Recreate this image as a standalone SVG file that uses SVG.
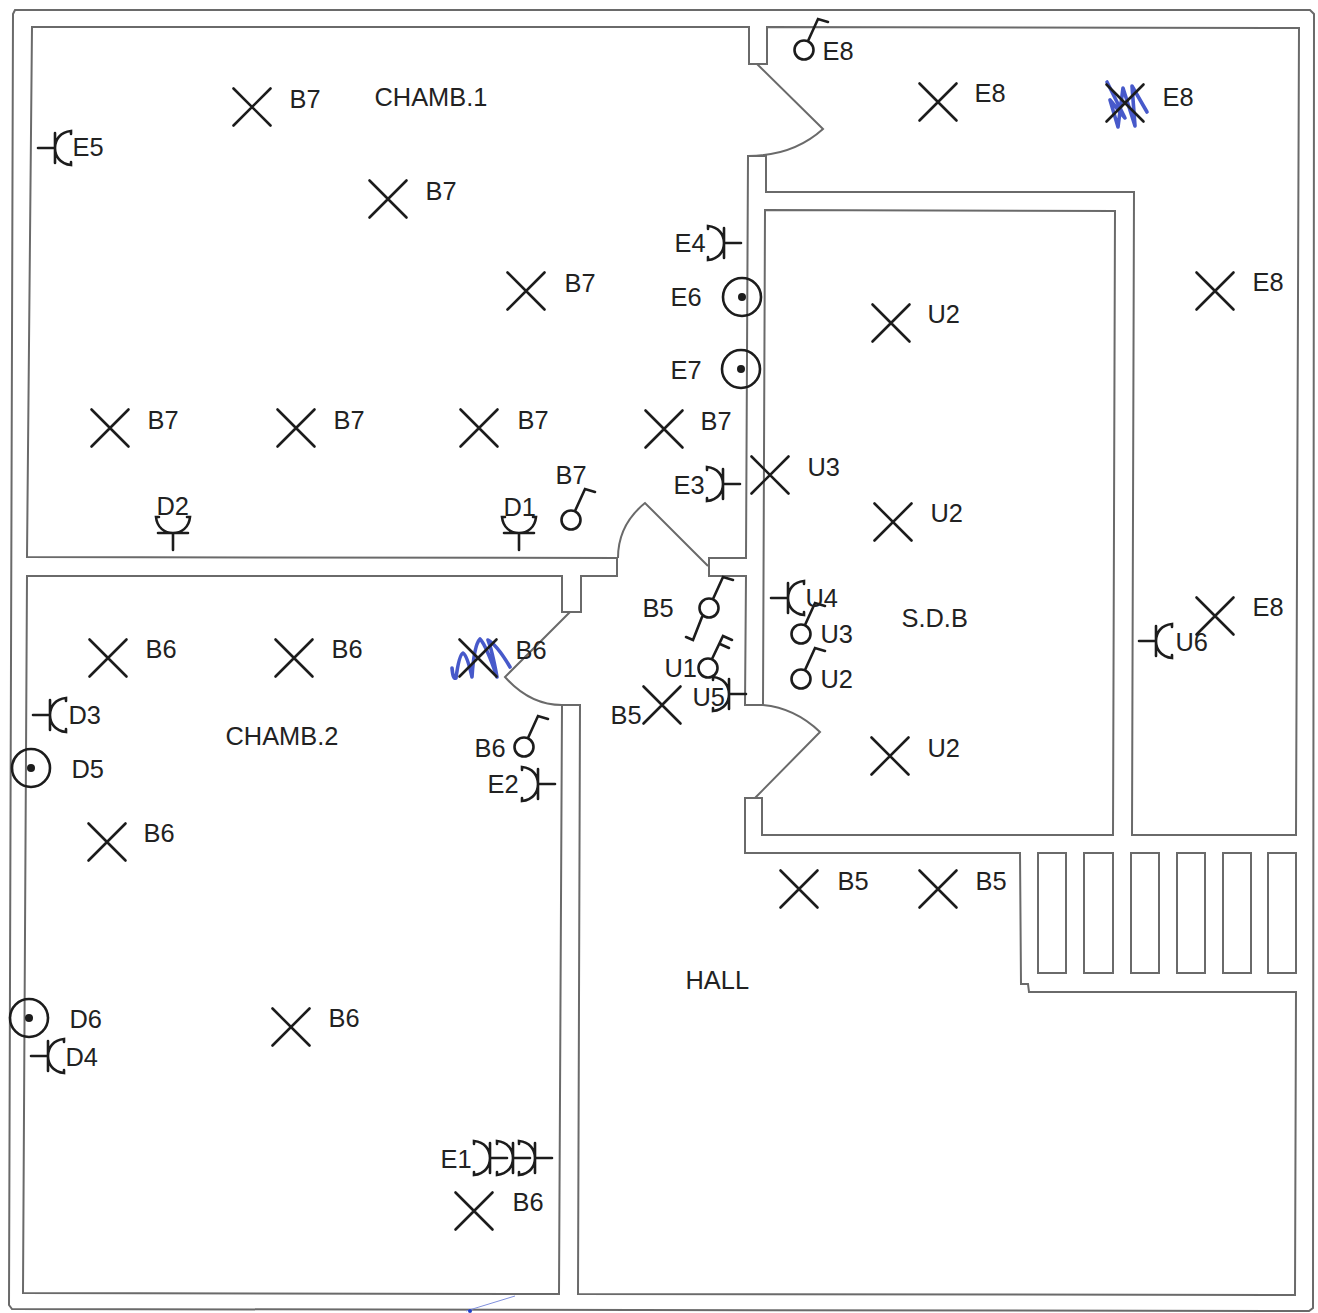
<svg xmlns="http://www.w3.org/2000/svg" xmlns:xlink="http://www.w3.org/1999/xlink" width="1318" height="1313" viewBox="0 0 1318 1313">
<style>
.w{fill:none;stroke:#6a6a6a;stroke-width:2;stroke-linejoin:miter}
.s{fill:none;stroke:#1c1c1c;stroke-width:2.6;stroke-linecap:round}
.c{fill:#fff;fill-opacity:0;stroke:#1c1c1c;stroke-width:2.6}
.ink{fill:none;stroke:#3347c4;stroke-width:3.6;stroke-linecap:round;stroke-linejoin:round;opacity:.9}
text{font-family:"Liberation Sans",Arial,sans-serif;font-size:25.4px;fill:#222}
</style>
<defs>
<g id="x"><path class="s" d="M-18.5,-18.5L18.5,18.5M18.5,-18.5L-18.5,18.5"/></g>
<g id="soc"><path class="s" d="M0,0H17M0,-15V15M-16,-14V-17C-5,-16 0,-8 0,0C0,8 -5,16 -16,17V14"/></g>
<g id="tgt"><circle class="c" cx="0" cy="0" r="19"/><circle cx="0" cy="0" r="4" fill="#1c1c1c"/></g>
<g id="sw"><circle class="c" cx="0" cy="0" r="9.5"/><path class="s" d="M4,-9L14,-31L24,-28"/></g>
</defs>
<rect width="1318" height="1313" fill="#fff"/>
<g id="walls">
<path class="w" d="M15,10L1310,10L1314,14L1313,1308L1309,1311L12,1309L9,1305L13,14Z"/>
<path class="w" d="M32,27L749,27V64H767V27L1299,28L1296,835H1132L1134,192H766V156H748L746,558H709V576H746L745,705H763L765,210L1115,211L1113,835H762V798H745V853H1020L1021,984H1028L1029,992H1296L1295,1295L578,1294L580,705H562L559,1294L23,1293L27,576H562V612H581V576H617V558L27,557Z"/>
<path class="w" d="M757,64L823,129Q793,156 748,156"/>
<path class="w" d="M708,566L645,503Q618,525 618,558"/>
<path class="w" d="M570,612L505,677Q530,705 562,705"/>
<path class="w" d="M763,705Q795,708 820,732L755,798"/>
<rect class="w" x="1038" y="853" width="28" height="120"/>
<rect class="w" x="1084" y="853" width="29" height="120"/>
<rect class="w" x="1131" y="853" width="28" height="120"/>
<rect class="w" x="1177" y="853" width="28" height="120"/>
<rect class="w" x="1223" y="853" width="28" height="120"/>
<rect class="w" x="1268" y="853" width="28" height="120"/>
</g>
<g id="scribbles">
<path class="ink" d="M452,668Q453,680 456,678Q459,655 463,653Q467,655 472,677Q474,645 480,639Q486,645 497,677Q492,650 488,640Q497,645 510,667"/>
<path class="ink" d="M1107,82L1125,118L1110,100L1118,127L1123,88L1135,126L1132,86L1147,112"/>
<path d="M466,1311L515,1296" fill="none" stroke="#8090dd" stroke-width="1"/>
<circle cx="470" cy="1311" r="2" fill="#2240c8"/>
</g>
<g id="fixtures">
<use href="#x" x="252" y="107"/><use href="#x" x="388" y="199"/><use href="#x" x="526" y="291"/>
<use href="#x" x="110" y="428"/><use href="#x" x="296" y="428"/><use href="#x" x="479" y="428"/><use href="#x" x="664" y="429"/>
<use href="#x" x="938" y="102"/><use href="#x" x="1125" y="103"/><use href="#x" x="1215" y="291"/>
<use href="#x" x="891" y="323"/><use href="#x" x="770" y="475"/><use href="#x" x="893" y="522"/><use href="#x" x="1215" y="616"/>
<use href="#x" x="108" y="658"/><use href="#x" x="294" y="658"/><use href="#x" x="478" y="658"/>
<use href="#x" x="107" y="842"/><use href="#x" x="291" y="1027"/><use href="#x" x="474" y="1211"/>
<use href="#x" x="662" y="705"/><use href="#x" x="890" y="756"/><use href="#x" x="799" y="889"/><use href="#x" x="938" y="889"/>
</g>
<g id="sockets">
<use href="#soc" transform="translate(723,484)"/><use href="#soc" transform="translate(724,243)"/><use href="#soc" transform="translate(538,784)"/>
<use href="#soc" transform="translate(490,1158)"/><use href="#soc" transform="translate(513,1158)"/><use href="#soc" transform="translate(535,1158)"/>
<use href="#soc" transform="translate(729,694)"/>
<use href="#soc" transform="translate(50,715) rotate(180)"/><use href="#soc" transform="translate(48,1056) rotate(180)"/><use href="#soc" transform="translate(788,598) rotate(180)"/>
<use href="#soc" transform="translate(1156,641) rotate(180)"/><use href="#soc" transform="translate(55,148) rotate(180)"/>
<use href="#soc" transform="translate(173,533) rotate(90)"/><use href="#soc" transform="translate(519,533) rotate(90)"/>
</g>
<g id="outlets">
<use href="#tgt" x="742" y="297"/><use href="#tgt" x="741" y="369"/><use href="#tgt" x="31" y="768"/><use href="#tgt" x="29" y="1018"/>
</g>
<g id="switches">
<use href="#sw" x="804" y="50"/><use href="#sw" x="571" y="520"/><use href="#sw" x="801" y="634"/><use href="#sw" x="801" y="679"/><use href="#sw" x="524" y="747"/>
<use href="#sw" x="709" y="608"/><path class="s" d="M702,617L693,640L686,637"/>
<circle class="c" cx="708" cy="668" r="9.5"/><path class="s" d="M712,659L723,636L732,640M720,644L729,648"/>
</g>
<g id="labels" transform="translate(-0.5,0)">
<text x="290" y="108">B7</text><text x="375" y="106">CHAMB.1</text><text x="73" y="156">E5</text><text x="426" y="200">B7</text><text x="565" y="292">B7</text>
<text x="823" y="60">E8</text><text x="975" y="102">E8</text><text x="1163" y="106">E8</text><text x="675" y="252">E4</text><text x="671" y="306">E6</text><text x="671" y="379">E7</text>
<text x="1253" y="291">E8</text><text x="928" y="323">U2</text><text x="148" y="429">B7</text><text x="334" y="429">B7</text><text x="518" y="429">B7</text><text x="701" y="430">B7</text>
<text x="556" y="484">B7</text><text x="674" y="494">E3</text><text x="808" y="476">U3</text><text x="931" y="522">U2</text><text x="157" y="515">D2</text><text x="504" y="516">D1</text>
<text x="643" y="617">B5</text><text x="806" y="607">U4</text><text x="902" y="627">S.D.B</text><text x="821" y="643">U3</text><text x="821" y="688">U2</text><text x="665" y="677">U1</text>
<text x="693" y="706">U5</text><text x="611" y="724">B5</text><text x="1176" y="651">U6</text><text x="1253" y="616">E8</text><text x="146" y="658">B6</text><text x="332" y="658">B6</text><text x="516" y="659">B6</text>
<text x="226" y="745">CHAMB.2</text><text x="69" y="724">D3</text><text x="72" y="778">D5</text><text x="475" y="757">B6</text><text x="488" y="793">E2</text><text x="928" y="757">U2</text><text x="144" y="842">B6</text>
<text x="838" y="890">B5</text><text x="976" y="890">B5</text><text x="686" y="989">HALL</text><text x="70" y="1028">D6</text><text x="329" y="1027">B6</text><text x="66" y="1066">D4</text><text x="441" y="1168">E1</text><text x="513" y="1211">B6</text>
</g>
</svg>
